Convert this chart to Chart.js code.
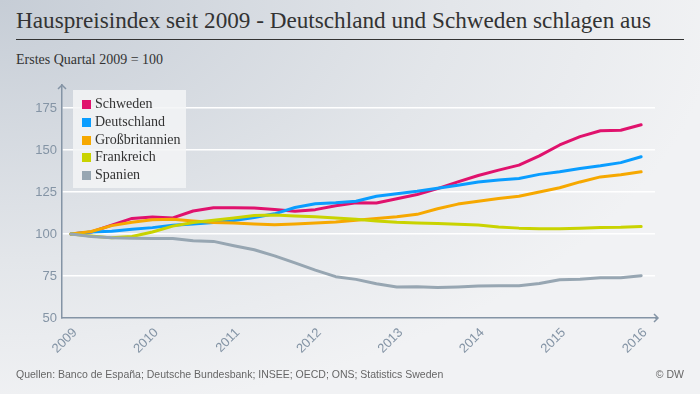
<!DOCTYPE html>
<html lang="de">
<head>
<meta charset="utf-8">
<title>Hauspreisindex seit 2009</title>
<script src="https://cdn.jsdelivr.net/npm/chart.js@4"></script>
<style>
    html, body {
        margin: 0;
        padding: 0;
    }
    body {
        width: 700px;
        height: 394px;
        position: relative;
        overflow: hidden;
        background: radial-gradient(ellipse 900px 520px at 0 0, #c6cdd6 0%, #e3e6ea 50%, #f1f2f4 80%);
    }
    #titel {
        position: absolute;
        left: 16px;
        top: 7px;
        font: 23.2px "Liberation Serif", serif;
        color: #333;
        white-space: nowrap;
    }
    #linie {
        position: absolute;
        left: 16px;
        top: 39px;
        width: 668px;
        height: 1px;
        background: #333;
    }
    #untertitel {
        position: absolute;
        left: 16px;
        top: 52px;
        font: 14px "Liberation Serif", serif;
        color: #333;
    }
    #chart {
        position: absolute;
        left: 0;
        top: 0;
    }
    #legende {
        position: absolute;
        left: 73px;
        top: 90px;
        width: 113px;
        height: 98px;
        background: rgba(243, 244, 246, 0.85);
        box-sizing: border-box;
        padding: 6px 0 0 9px;
    }
    #legende div {
        height: 17.8px;
        line-height: 17.8px;
        font: 14px "Liberation Serif", serif;
        color: #333;
        white-space: nowrap;
    }
    #legende span {
        display: inline-block;
        width: 9px;
        height: 9px;
        margin-right: 4px;
        vertical-align: -1px;
    }
    #quelle {
        position: absolute;
        left: 16px;
        top: 368px;
        font: 10.5px "Liberation Sans Narrow", "Liberation Sans", sans-serif;
        color: #666;
    }
    #dw {
        position: absolute;
        right: 16px;
        top: 368px;
        font: 10.5px "Liberation Sans Narrow", "Liberation Sans", sans-serif;
        color: #666;
    }
</style>
</head>
<body>
<div id="titel">Hauspreisindex seit 2009 - Deutschland und Schweden schlagen aus</div>
<div id="linie"></div>
<div id="untertitel">Erstes Quartal 2009 = 100</div>
<canvas id="chart" width="700" height="394"></canvas>
<div id="legende"></div>
<div id="quelle">Quellen: Banco de España; Deutsche Bundesbank; INSEE; OECD; ONS; Statistics Sweden</div>
<div id="dw">© DW</div>

<script>
// quarters, Q1 2009 .. Q1 2016
var quartale = [
    '2009-Q1', '2009-Q2', '2009-Q3', '2009-Q4',
    '2010-Q1', '2010-Q2', '2010-Q3', '2010-Q4',
    '2011-Q1', '2011-Q2', '2011-Q3', '2011-Q4',
    '2012-Q1', '2012-Q2', '2012-Q3', '2012-Q4',
    '2013-Q1', '2013-Q2', '2013-Q3', '2013-Q4',
    '2014-Q1', '2014-Q2', '2014-Q3', '2014-Q4',
    '2015-Q1', '2015-Q2', '2015-Q3', '2015-Q4',
    '2016-Q1'
]

var schweden = [100, 101.2, 105.3, 109.3, 110.1, 109.6, 113.7, 115.6, 115.7, 115.5, 114.6, 113.6, 114.5, 116.8, 118.6, 118.5, 121, 123.5, 127, 131, 134.8, 138, 141, 146.5, 153, 158, 161.5, 161.8, 165]
var deutschland = [100, 101.2, 101.7, 102.8, 103.8, 105.2, 106, 106.8, 108, 109.8, 112, 115.8, 118, 118.6, 119.5, 122.5, 124, 125.5, 127.3, 129, 131, 132.2, 133, 135.5, 137, 139, 140.6, 142.5, 146]
var grossbritannien = [100, 101.5, 105, 107, 108.5, 108.8, 107.8, 106.9, 106.5, 106, 105.5, 106, 106.5, 107.2, 108.2, 109.2, 110.3, 111.7, 115, 117.8, 119.5, 121.2, 122.5, 125, 127.5, 131, 134, 135.3, 137]
var frankreich = [100, 98.8, 97.7, 98.5, 101.2, 104.7, 106.9, 108.2, 109.5, 111, 111.3, 110.7, 110.2, 109.5, 108.8, 107.8, 107, 106.5, 106.2, 105.8, 105.3, 104.2, 103.5, 103.2, 103.1, 103.5, 103.8, 104, 104.5]
var spanien = [100, 98.5, 97.8, 97.5, 97.3, 97.3, 96, 95.6, 93, 90.6, 87, 82.8, 78.5, 74.6, 73, 70.4, 68.5, 68.6, 68.2, 68.5, 69, 69.2, 69.2, 70.5, 72.8, 73.1, 74, 74, 75.2]

var jahre = [2009, 2010, 2011, 2012, 2013, 2014, 2015, 2016]
var yTicks = [50, 75, 100, 125, 150, 175]

var laender = ['Schweden', 'Deutschland', 'Großbritannien', 'Frankreich', 'Spanien']
var reihen = [schweden, deutschland, grossbritannien, frankreich, spanien]
var farben = ['#e0126d', '#0a9dff', '#f6a800', '#c9d300', '#97a6b2']

var achsenFarbe = '#8494a5'

// '2010-Q3' -> 2010.5
function quartalZuJahr(q) {
    var teile = q.split('-Q')
    return parseInt(teile[0], 10) + (parseInt(teile[1], 10) - 1) / 4
}

var datasets = []
for (var i = 0; i < laender.length; i++) {
    datasets.push({
        label: laender[i],
        data: reihen[i].map(function (v, j) {
            return { x: quartalZuJahr(quartale[j]), y: v }
        }),
        borderColor: farben[i],
        backgroundColor: farben[i],
        borderWidth: 3,
        pointRadius: 0,
        tension: 0,
        borderJoinStyle: 'round',
        borderCapStyle: 'round'
    })
}
// Spanien drawn first so it sits at the bottom
datasets.reverse()

// legend as html
var legende = document.getElementById('legende')
laender.forEach(function (name, i) {
    var zeile = document.createElement('div')
    zeile.innerHTML = '<span style="background:' + farben[i] + '"></span>' + name
    legende.appendChild(zeile)
})

// arrow heads on the axis ends
var pfeile = {
    id: 'pfeile',
    afterDraw: function (chart) {
        var c = chart.ctx
        var a = chart.chartArea
        c.save()
        c.strokeStyle = achsenFarbe
        c.lineWidth = 1.5
        c.beginPath()
        c.moveTo(a.right, a.bottom)
        c.lineTo(a.right + 3, a.bottom)
        c.moveTo(a.right - 1, a.bottom - 4)
        c.lineTo(a.right + 3, a.bottom)
        c.lineTo(a.right - 1, a.bottom + 4)
        c.moveTo(a.left - 4, a.top + 4)
        c.lineTo(a.left, a.top)
        c.lineTo(a.left + 4, a.top + 4)
        c.stroke()
        c.restore()
    }
}

var ctx = document.getElementById('chart')
var chart = new Chart(ctx, {
    type: 'line',
    data: { datasets: datasets },
    options: {
        responsive: false,
        animation: false,
        devicePixelRatio: 1,
        layout: {
            padding: { top: 85, right: 45, left: 0, bottom: 0 }
        },
        plugins: {
            legend: { display: false },
            tooltip: { enabled: false }
        },
        scales: {
            x: {
                type: 'linear',
                min: 2008.89,
                max: 2016.17,
                afterBuildTicks: function (s) {
                    s.ticks = jahre.map(function (j) { return { value: j } })
                },
                afterFit: function (s) {
                    s.height = 76
                },
                grid: { display: false, drawTicks: false },
                border: { color: achsenFarbe, width: 1.5 },
                ticks: {
                    color: achsenFarbe,
                    font: { family: 'Liberation Sans, Arial, sans-serif', size: 13 },
                    minRotation: 45,
                    maxRotation: 45,
                    padding: 7,
                    labelOffset: 4,
                    callback: function (v) { return String(v) }
                }
            },
            y: {
                min: 50,
                max: 188.7,
                afterBuildTicks: function (s) {
                    s.ticks = yTicks.map(function (t) { return { value: t } })
                },
                afterFit: function (s) {
                    s.width = 62
                },
                grid: {
                    drawTicks: false,
                    lineWidth: 1.5,
                    color: function (c) {
                        return c.tick && c.tick.value === 50 ? 'rgba(0,0,0,0)' : '#ffffff'
                    }
                },
                border: { color: achsenFarbe, width: 1.5 },
                ticks: {
                    color: achsenFarbe,
                    font: { family: 'Liberation Sans, Arial, sans-serif', size: 13 },
                    padding: 5
                }
            }
        }
    },
    plugins: [pfeile]
})
</script>
</body>
</html>
